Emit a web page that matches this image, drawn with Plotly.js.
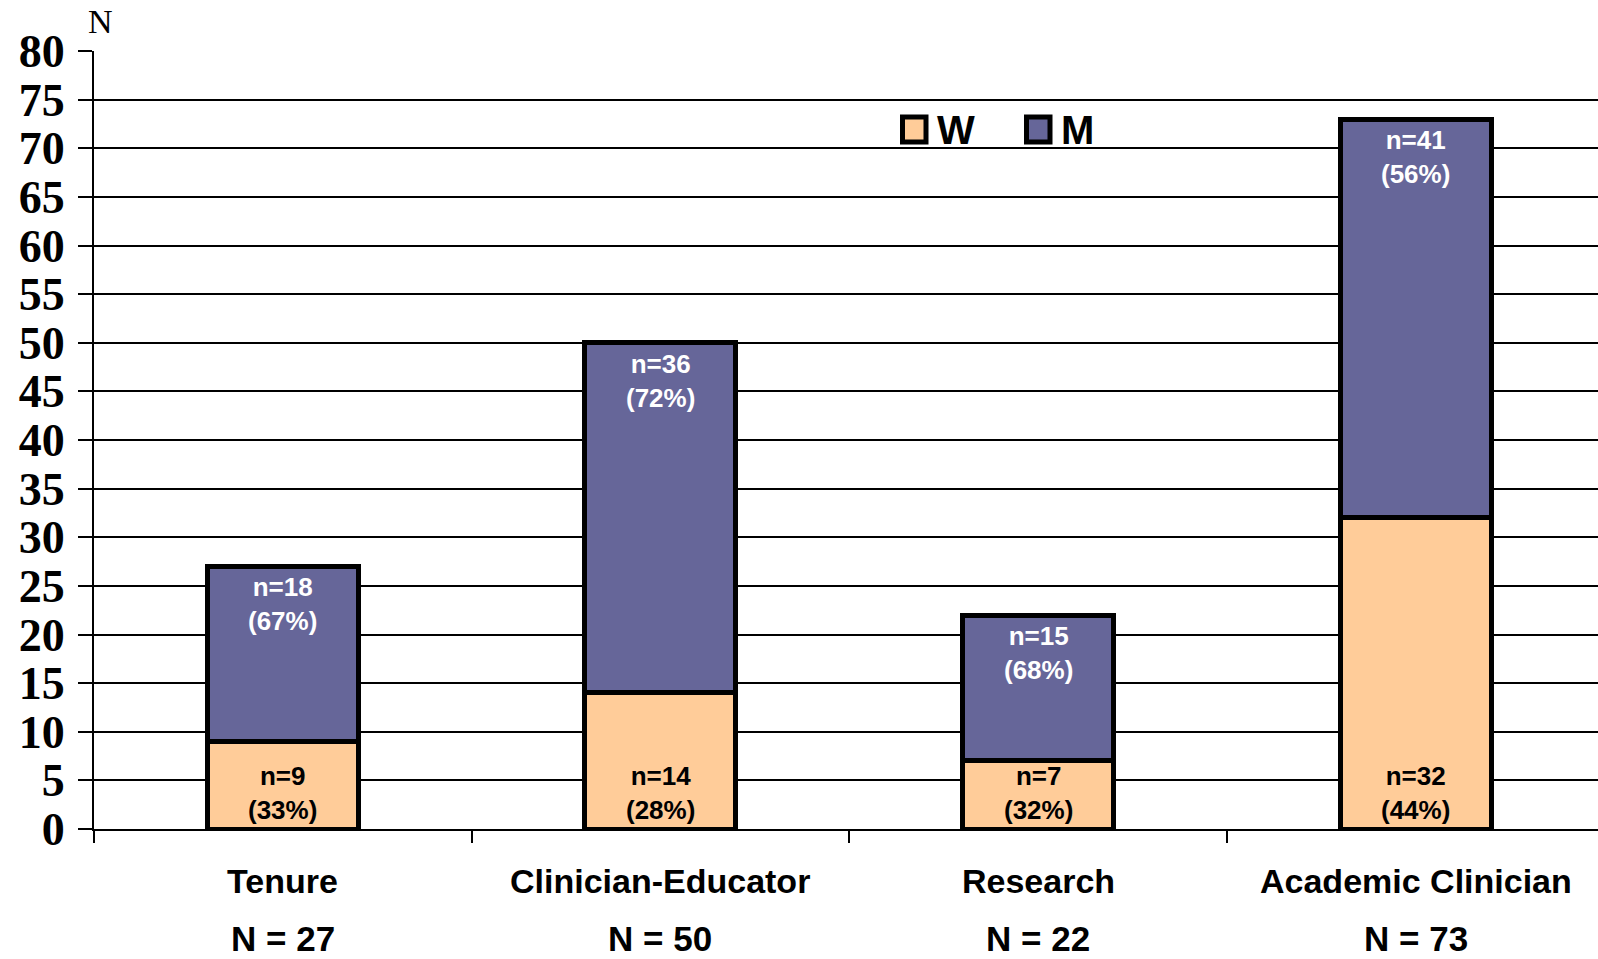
<!DOCTYPE html>
<html>
<head>
<meta charset="utf-8">
<script src="https://cdn.plot.ly/plotly-3.0.1.min.js"></script>
<style>html,body{margin:0;padding:0;background:#fff;}#chart{width:1598px;height:959px;}</style>
</head>
<body>
<div id="chart"></div>
<script>
const categories = ["Tenure", "Clinician-Educator", "Research", "Academic Clinician"];
const women = [9, 14, 7, 32];
const men = [18, 36, 15, 41];
const womenPct = [33, 28, 32, 44];
const menPct = [67, 72, 68, 56];
const totals = [27, 50, 22, 73];
const yTicks = [0, 5, 10, 15, 20, 25, 30, 35, 40, 45, 50, 55, 60, 65, 70, 75, 80];

const W_COLOR = "#FFCC99";
const M_COLOR = "#666699";

const W = 1598, H = 959;
const mL = 94, mR = 0, mT = 51, mB = 130;
const pw = W - mL - mR, ph = H - mT - mB;
const px = x => (x - mL) / pw;
const py = y => (H - mB - y) / ph;

const traces = [
  {type: "bar", name: "W", x: categories, y: women, width: 0.4,
   marker: {color: W_COLOR, line: {color: "#000", width: 5}}, hoverinfo: "skip"},
  {type: "bar", name: "M", x: categories, y: men, width: 0.4,
   marker: {color: M_COLOR, line: {color: "#000", width: 5}}, hoverinfo: "skip"}
];

const sans = "Liberation Sans, Arial, sans-serif";
const labelFont = {family: sans, size: 26};
const annotations = [];
categories.forEach((c, i) => {
  annotations.push({x: c, y: 0, xref: "x", yref: "y", yanchor: "middle", yshift: 36,
    text: "<b>n=" + women[i] + "<br>(" + womenPct[i] + "%)</b>", showarrow: false,
    font: Object.assign({}, labelFont, {color: "#000"})});
  annotations.push({x: c, y: totals[i], xref: "x", yref: "y", yanchor: "middle", yshift: -38,
    text: "<b>n=" + men[i] + "<br>(" + menPct[i] + "%)</b>", showarrow: false,
    font: Object.assign({}, labelFont, {color: "#fff"})});
  annotations.push({x: c, y: 0, xref: "x", yref: "paper", yanchor: "middle", yshift: -52,
    text: "<b>" + c + "</b>", showarrow: false,
    font: {family: sans, size: 34, color: "#000"}});
  annotations.push({x: c, y: 0, xref: "x", yref: "paper", yanchor: "middle", yshift: -109,
    text: "<b>N = " + totals[i] + "</b>", showarrow: false,
    font: {family: sans, size: 35, color: "#000"}});
});
// axis title "N"
annotations.push({x: px(100), y: py(22), xref: "paper", yref: "paper", xanchor: "center", yanchor: "middle",
  text: "N", showarrow: false, font: {family: "Liberation Serif, Times New Roman, serif", size: 34, color: "#000"}});
// legend text
const legFont = {family: sans, size: 40, color: "#000"};
annotations.push({x: px(935), y: py(130), xref: "paper", yref: "paper", xanchor: "left", yanchor: "middle",
  text: "<b>W</b>", showarrow: false, font: legFont});
annotations.push({x: px(1059), y: py(130), xref: "paper", yref: "paper", xanchor: "left", yanchor: "middle",
  text: "<b>M</b>", showarrow: false, font: legFont});

const shapes = [
  {type: "rect", xref: "paper", yref: "paper", x0: px(902.5), x1: px(926), y0: py(117), y1: py(142),
   fillcolor: W_COLOR, line: {color: "#000", width: 5}},
  {type: "rect", xref: "paper", yref: "paper", x0: px(1026.5), x1: px(1050), y0: py(117), y1: py(142),
   fillcolor: M_COLOR, line: {color: "#000", width: 5}}
];

const layout = {
  width: W, height: H,
  margin: {l: mL, r: mR, t: mT, b: mB, pad: 0},
  paper_bgcolor: "#fff", plot_bgcolor: "#fff",
  barmode: "stack",
  showlegend: false,
  xaxis: {
    type: "category", range: [-0.5, 3.483], showgrid: false,
    tickson: "boundaries", ticks: "outside", ticklen: 12, tickwidth: 2, tickcolor: "#000",
    showticklabels: false, showline: true, linecolor: "#000", linewidth: 2, zeroline: false
  },
  yaxis: {
    range: [0, 80], tickvals: yTicks, ticktext: yTicks.map(String),
    showgrid: true, gridcolor: "#000", gridwidth: 2,
    ticks: "outside", ticklen: 14, tickwidth: 2, tickcolor: "#000",
    showline: true, linecolor: "#000", linewidth: 2, zeroline: false,
    ticklabelstandoff: 4,
    tickfont: {family: "Liberation Serif, Times New Roman, serif", size: 46, color: "#000", weight: "bold"}
  },
  annotations: annotations,
  shapes: shapes
};

Plotly.newPlot("chart", traces, layout, {displayModeBar: false, staticPlot: true});
</script>
</body>
</html>
